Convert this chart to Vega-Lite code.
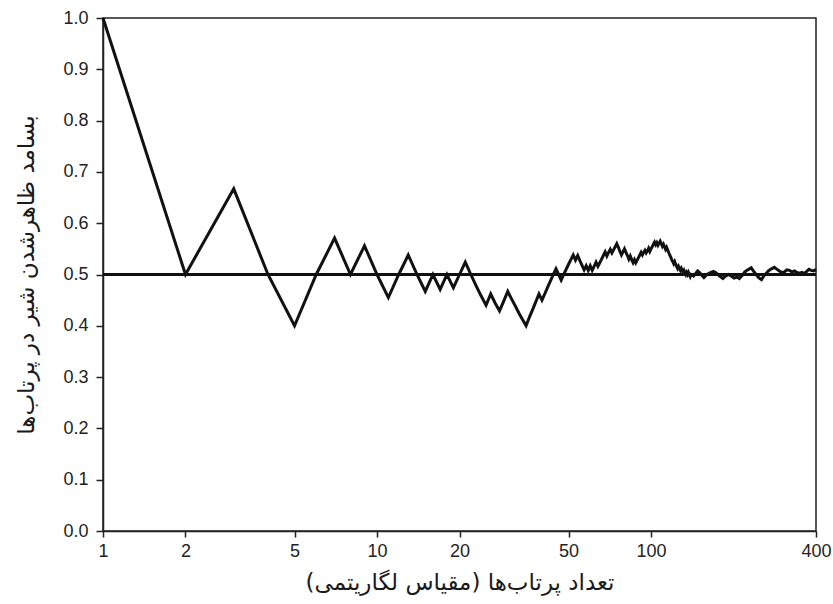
{
  "$schema": "https://vega.github.io/schema/vega-lite/v6.json",
  "width": 713,
  "height": 513,
  "autosize": {"type": "none"},
  "padding": {"left": 103, "top": 18, "right": 17, "bottom": 73},
  "background": "white",
  "config": {
    "view": {"stroke": "#222", "strokeWidth": 1.5},
    "axis": {
      "grid": false,
      "domainColor": "#222",
      "domainWidth": 1.5,
      "tickColor": "#222",
      "tickWidth": 1.5,
      "labelFont": "Liberation Sans",
      "labelFontSize": 18,
      "labelColor": "#222",
      "titleFont": "DejaVu Sans",
      "titleFontWeight": "normal",
      "titleColor": "#1a1a1a"
    }
  },
  "data": {
    "values": [
      {"n": 1, "p": 1.0}, {"n": 2, "p": 0.5}, {"n": 3, "p": 0.667}, {"n": 4, "p": 0.5},
      {"n": 5, "p": 0.4}, {"n": 6, "p": 0.5}, {"n": 7, "p": 0.571}, {"n": 8, "p": 0.5},
      {"n": 9, "p": 0.556}, {"n": 10, "p": 0.5}, {"n": 11, "p": 0.455}, {"n": 12, "p": 0.5},
      {"n": 13, "p": 0.538}, {"n": 14, "p": 0.5}, {"n": 15, "p": 0.467}, {"n": 16, "p": 0.5},
      {"n": 17, "p": 0.471}, {"n": 18, "p": 0.5}, {"n": 19, "p": 0.474}, {"n": 20, "p": 0.5},
      {"n": 21, "p": 0.524}, {"n": 22, "p": 0.5}, {"n": 23, "p": 0.478}, {"n": 24, "p": 0.458},
      {"n": 25, "p": 0.44}, {"n": 26, "p": 0.462}, {"n": 27, "p": 0.444}, {"n": 28, "p": 0.429},
      {"n": 29, "p": 0.448}, {"n": 30, "p": 0.467}, {"n": 31, "p": 0.452}, {"n": 32, "p": 0.438},
      {"n": 33, "p": 0.424}, {"n": 34, "p": 0.412}, {"n": 35, "p": 0.4}, {"n": 36, "p": 0.417},
      {"n": 37, "p": 0.432}, {"n": 38, "p": 0.447}, {"n": 39, "p": 0.462}, {"n": 40, "p": 0.45},
      {"n": 41, "p": 0.463}, {"n": 42, "p": 0.476}, {"n": 43, "p": 0.488}, {"n": 44, "p": 0.5},
      {"n": 45, "p": 0.511}, {"n": 46, "p": 0.5}, {"n": 47, "p": 0.489}, {"n": 48, "p": 0.5},
      {"n": 49, "p": 0.51}, {"n": 50, "p": 0.52}, {"n": 51, "p": 0.529}, {"n": 52, "p": 0.538},
      {"n": 53, "p": 0.528}, {"n": 54, "p": 0.537}, {"n": 55, "p": 0.527}, {"n": 56, "p": 0.518},
      {"n": 57, "p": 0.509}, {"n": 58, "p": 0.517}, {"n": 59, "p": 0.508}, {"n": 60, "p": 0.517},
      {"n": 61, "p": 0.508}, {"n": 62, "p": 0.516}, {"n": 63, "p": 0.524}, {"n": 64, "p": 0.516},
      {"n": 65, "p": 0.523}, {"n": 66, "p": 0.53}, {"n": 67, "p": 0.537}, {"n": 68, "p": 0.544},
      {"n": 69, "p": 0.536}, {"n": 70, "p": 0.543}, {"n": 71, "p": 0.549}, {"n": 72, "p": 0.542},
      {"n": 73, "p": 0.548}, {"n": 74, "p": 0.554}, {"n": 75, "p": 0.56}, {"n": 76, "p": 0.553},
      {"n": 77, "p": 0.545}, {"n": 78, "p": 0.538}, {"n": 79, "p": 0.544}, {"n": 80, "p": 0.55},
      {"n": 81, "p": 0.543}, {"n": 82, "p": 0.537}, {"n": 83, "p": 0.53}, {"n": 84, "p": 0.536},
      {"n": 85, "p": 0.529}, {"n": 86, "p": 0.523}, {"n": 87, "p": 0.529}, {"n": 88, "p": 0.523},
      {"n": 89, "p": 0.528}, {"n": 90, "p": 0.533}, {"n": 91, "p": 0.538}, {"n": 92, "p": 0.543},
      {"n": 93, "p": 0.538}, {"n": 94, "p": 0.543}, {"n": 95, "p": 0.547}, {"n": 96, "p": 0.542},
      {"n": 97, "p": 0.546}, {"n": 98, "p": 0.551}, {"n": 99, "p": 0.545}, {"n": 100, "p": 0.55},
      {"n": 101, "p": 0.554}, {"n": 102, "p": 0.559}, {"n": 103, "p": 0.563}, {"n": 104, "p": 0.558},
      {"n": 105, "p": 0.562}, {"n": 106, "p": 0.557}, {"n": 107, "p": 0.561}, {"n": 108, "p": 0.565},
      {"n": 109, "p": 0.56}, {"n": 110, "p": 0.555}, {"n": 111, "p": 0.559}, {"n": 112, "p": 0.554},
      {"n": 113, "p": 0.549}, {"n": 114, "p": 0.553}, {"n": 115, "p": 0.548}, {"n": 116, "p": 0.543},
      {"n": 117, "p": 0.538}, {"n": 118, "p": 0.534}, {"n": 119, "p": 0.529}, {"n": 120, "p": 0.525},
      {"n": 121, "p": 0.521}, {"n": 122, "p": 0.525}, {"n": 123, "p": 0.52}, {"n": 124, "p": 0.516},
      {"n": 125, "p": 0.512}, {"n": 126, "p": 0.516}, {"n": 127, "p": 0.512}, {"n": 128, "p": 0.508},
      {"n": 129, "p": 0.512}, {"n": 130, "p": 0.508}, {"n": 131, "p": 0.504}, {"n": 132, "p": 0.508},
      {"n": 133, "p": 0.504}, {"n": 134, "p": 0.5}, {"n": 135, "p": 0.504}, {"n": 136, "p": 0.5},
      {"n": 137, "p": 0.504}, {"n": 138, "p": 0.5}, {"n": 139, "p": 0.496}, {"n": 140, "p": 0.5},
      {"n": 143, "p": 0.497}, {"n": 146, "p": 0.503}, {"n": 148, "p": 0.507}, {"n": 151, "p": 0.503},
      {"n": 154, "p": 0.497}, {"n": 156, "p": 0.494}, {"n": 160, "p": 0.5}, {"n": 164, "p": 0.503},
      {"n": 169, "p": 0.506}, {"n": 173, "p": 0.503}, {"n": 178, "p": 0.497}, {"n": 183, "p": 0.492},
      {"n": 187, "p": 0.497}, {"n": 192, "p": 0.5}, {"n": 196, "p": 0.497}, {"n": 201, "p": 0.493},
      {"n": 206, "p": 0.495}, {"n": 210, "p": 0.492}, {"n": 215, "p": 0.498}, {"n": 220, "p": 0.505},
      {"n": 225, "p": 0.509}, {"n": 232, "p": 0.513}, {"n": 237, "p": 0.506}, {"n": 242, "p": 0.5},
      {"n": 247, "p": 0.494}, {"n": 253, "p": 0.49}, {"n": 258, "p": 0.497}, {"n": 263, "p": 0.502},
      {"n": 268, "p": 0.507}, {"n": 275, "p": 0.511}, {"n": 282, "p": 0.514}, {"n": 288, "p": 0.51},
      {"n": 294, "p": 0.507}, {"n": 300, "p": 0.504}, {"n": 307, "p": 0.505}, {"n": 313, "p": 0.509},
      {"n": 320, "p": 0.508}, {"n": 327, "p": 0.505}, {"n": 334, "p": 0.507}, {"n": 341, "p": 0.504},
      {"n": 348, "p": 0.502}, {"n": 355, "p": 0.504}, {"n": 363, "p": 0.502}, {"n": 370, "p": 0.506},
      {"n": 377, "p": 0.51}, {"n": 384, "p": 0.508}, {"n": 392, "p": 0.507}, {"n": 400, "p": 0.51}
    ]
  },
  "layer": [
    {
      "mark": {"type": "rule", "color": "#111", "strokeWidth": 1.5},
      "encoding": {"y": {"datum": 0.5, "type": "quantitative"}}
    },
    {
      "mark": {"type": "line", "color": "#111", "strokeWidth": 3, "strokeJoin": "miter", "strokeMiterLimit": 4},
      "encoding": {
        "x": {
          "field": "n",
          "type": "quantitative",
          "scale": {"type": "log", "domain": [1, 400], "nice": false, "zero": false},
          "axis": {
            "values": [1, 2, 5, 10, 20, 50, 100, 400],
            "format": "d",
            "tickSize": 6,
            "labelPadding": 5,
            "labelFlush": false,
            "title": "تعداد پرتاب‌ها (مقیاس لگاریتمی)",
            "titleFontSize": 23,
            "titlePadding": 11
          }
        },
        "y": {
          "field": "p",
          "type": "quantitative",
          "scale": {"domain": [0, 1], "nice": false, "zero": true},
          "axis": {
            "values": [0, 0.1, 0.2, 0.3, 0.4, 0.5, 0.6, 0.7, 0.8, 0.9, 1.0],
            "format": ".1f",
            "tickSize": 7,
            "labelPadding": 8,
            "title": "بسامد ظاهرشدن شیر در پرتاب‌ها",
            "titleFontSize": 23,
            "titlePadding": 24
          }
        }
      }
    }
  ]
}
